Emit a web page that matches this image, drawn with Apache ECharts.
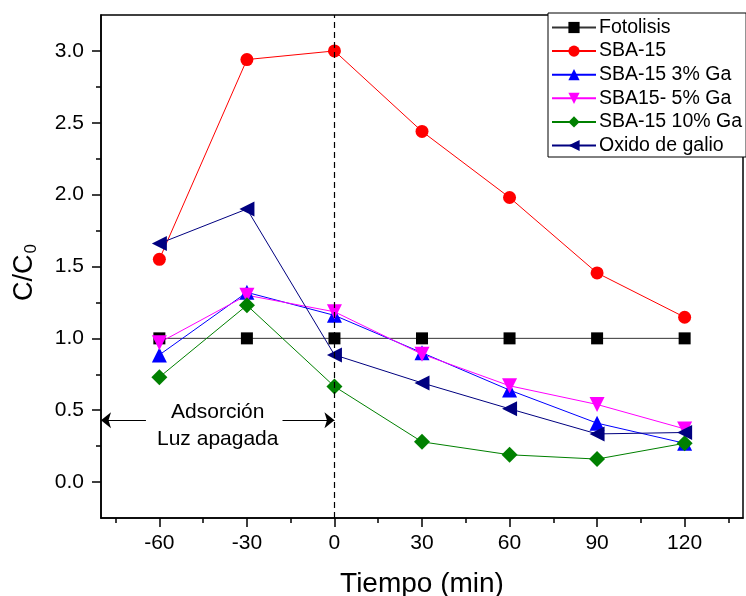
<!DOCTYPE html>
<html><head><meta charset="utf-8">
<script src="https://cdn.jsdelivr.net/npm/echarts@6/dist/echarts.min.js"></script>
<style>html,body{margin:0;padding:0;background:#fff}#c{width:746px;height:596px}</style>
</head><body><div id="c"></div>
<script>
const times = [-60, -30, 0, 30, 60, 90, 120];
const xMajor = [-60, -30, 0, 30, 60, 90, 120];
const xMinor = [-75, -45, -15, 15, 45, 75, 105, 135];
const yMajor = [0, 0.5, 1.0, 1.5, 2.0, 2.5, 3.0];
const yMinor = [0.25, 0.75, 1.25, 1.75, 2.25, 2.75];
const fotolisis = [1.0, 1.0, 1.0, 1.0, 1.0, 1.0, 1.0];
const sba15 = [1.55, 2.94, 3.0, 2.44, 1.98, 1.455, 1.147];
const sba3 = [0.885, 1.32, 1.16, 0.90, 0.64, 0.41, 0.27];
const sba5 = [0.97, 1.30, 1.185, 0.89, 0.67, 0.54, 0.37];
const sba10 = [0.73, 1.23, 0.665, 0.28, 0.19, 0.16, 0.27];
const oxido = [1.66, 1.90, 0.885, 0.69, 0.51, 0.335, 0.345];
const names = ['Fotolisis', 'SBA-15', 'SBA-15 3% Ga', 'SBA15- 5% Ga', 'SBA-15 10% Ga', 'Oxido de galio'];

const FONT = 'Liberation Sans, Arial, sans-serif';
const W = 746, H = 596;
const G = {left:101, right:3, top:15, bottom:78};
const X0 = -80, X1 = 140, Y0 = -0.25, Y1 = 3.25;
const chart = echarts.init(document.getElementById('c'));
function pts(arr){ return times.map((t,i)=>[t, arr[i]]); }
function mk(name, data, color, symbol, size, rot){
  return {
    name, type:'line', data: pts(data), symbol, symbolSize: size, symbolRotate: rot||0,
    lineStyle:{color, width:1}, itemStyle:{color}, showSymbol:true, animation:false,
    emphasis:{disabled:true}
  };
}
const series = [
  mk(names[0], fotolisis, '#000000', 'rect', 12),
  mk(names[1], sba15, '#ff0000', 'circle', 13),
  mk(names[2], sba3, '#0000ff', 'triangle', 15),
  mk(names[3], sba5, '#ff00ff', 'triangle', 15, 180),
  mk(names[4], sba10, '#008000', 'diamond', 16),
  mk(names[5], oxido, '#000080', 'triangle', 15, 90)
];
series[0].lineStyle.color = '#333333';
series[0].markLine = {
  silent:true, animation:false, symbol:['none','none'],
  lineStyle:{color:'#000', type:[6,4], width:1.2}, label:{show:false},
  data:[{xAxis:0}]
};
series[1].markLine = {
  silent:true, animation:false, symbolSize:[12,10],
  lineStyle:{color:'#000', type:'solid', width:1}, label:{show:false},
  data:[
    [{coord:[-80,0.43], symbol:'arrow'}, {coord:[-64.6,0.43], symbol:'none'}],
    [{coord:[-17.8,0.43], symbol:'none'}, {coord:[0,0.43], symbol:'arrow'}]
  ]
};
series[1].markPoint = {
  silent:true, animation:false, symbol:'circle', symbolSize:0,
  label:{show:true, position:'inside', offset:[0,5], formatter:'Adsorción\nLuz apagada', color:'#000', fontSize:21, lineHeight:27, fontFamily:FONT},
  data:[{coord:[-40, 0.43]}]
};

// Helper grids whose value ranges start at a major tick (so interval-based ticks line up with the main grid)
const pxX = (W - G.left - G.right) / (X1 - X0);
const pxY = (H - G.top - G.bottom) / (Y1 - Y0);
const xTickMin = xMajor[0], xTickMax = xMajor[0] + 30 * 7;
const yTickMin = yMajor[0], yTickMax = yMajor[0] + 0.5 * 7;
const gridX = {
  left: G.left + (xTickMin - X0) * pxX,
  right: G.right - (xTickMax - X1) * pxX,
  top: G.top, bottom: G.bottom, outerBoundsMode:'none', containLabel:false, show:false
};
const gridY = {
  left: G.left, right: G.right,
  bottom: G.bottom + (yTickMin - Y0) * pxY,
  top: G.top - (yTickMax - Y1) * pxY,
  outerBoundsMode:'none', containLabel:false, show:false
};

function minorAxis(min, max, pos, vals){
  return {
    type:'value', min, max, position:pos, gridIndex:0,
    axisLine:{show:false, onZero:false}, axisLabel:{show:false}, splitLine:{show:false},
    axisTick:{show:true, inside:false, length:5, customValues:vals.slice(), lineStyle:{color:'#000', width:1.5}}
  };
}
function majorAxis(min, max, interval, pos, gi){
  return {
    type:'value', min, max, interval, position:pos, gridIndex:gi,
    axisLine:{show:false, onZero:false}, axisLabel:{show:false}, splitLine:{show:false},
    axisTick:{show:true, inside:false, length:9, lineStyle:{color:'#000', width:1.5}}
  };
}
function hiddenAxis(gi){
  return {type:'value', min:0, max:1, gridIndex:gi, show:false};
}

chart.setOption({
  animation:false,
  backgroundColor:'#fff',
  grid:[
    {left:G.left, right:G.right, top:G.top, bottom:G.bottom, outerBoundsMode:'none', containLabel:false, show:true, borderColor:'#000', borderWidth:1.5, backgroundColor:'transparent'},
    gridX, gridY
  ],
  legend:{
    data: names.map(n=>({name:n})), orient:'vertical', left:548, top:13,
    itemWidth:44, itemHeight:14, itemGap:2.6, padding:[4,4,1,3],
    borderColor:'#000', borderWidth:1, backgroundColor:'#fff',
    textStyle:{fontSize:19.5, lineHeight:21, color:'#000', fontFamily:FONT, padding:[0,0,0,-2]},
    selectedMode:false
  },
  xAxis:[{
    type:'value', min:X0, max:X1, position:'bottom', gridIndex:0,
    name:'Tiempo (min)', nameLocation:'middle', nameGap:52,
    nameTextStyle:{fontSize:28, color:'#000', fontFamily:FONT},
    axisLine:{show:true, onZero:false, lineStyle:{color:'#000', width:1.5}},
    axisTick:{show:false},
    axisLabel:{show:true, customValues:xMajor.slice(), fontSize:21, color:'#000', fontFamily:FONT, margin:15},
    splitLine:{show:false}
  },
  minorAxis(X0, X1, 'bottom', xMinor),
  majorAxis(xTickMin, xTickMax, 30, 'bottom', 1),
  hiddenAxis(2)
  ],
  yAxis:[{
    type:'value', min:Y0, max:Y1, position:'left', gridIndex:0,
    name:'{a|C/C}{b|0}', nameLocation:'middle', nameGap:61,
    nameTextStyle:{fontFamily:FONT, color:'#000', padding:[0,12,0,0], rich:{a:{fontSize:27, fontFamily:FONT, color:'#000'}, b:{fontSize:17, fontFamily:FONT, color:'#000', padding:[14,0,0,1]}}},
    axisLine:{show:true, onZero:false, lineStyle:{color:'#000', width:1.5}},
    axisTick:{show:false},
    axisLabel:{show:true, customValues:yMajor.slice(), fontSize:21, color:'#000', fontFamily:FONT, margin:17, formatter:v=>v.toFixed(1)},
    splitLine:{show:false}
  },
  minorAxis(Y0, Y1, 'left', yMinor),
  hiddenAxis(1),
  majorAxis(yTickMin, yTickMax, 0.5, 'left', 2)
  ],
  series
});
</script></body></html>
